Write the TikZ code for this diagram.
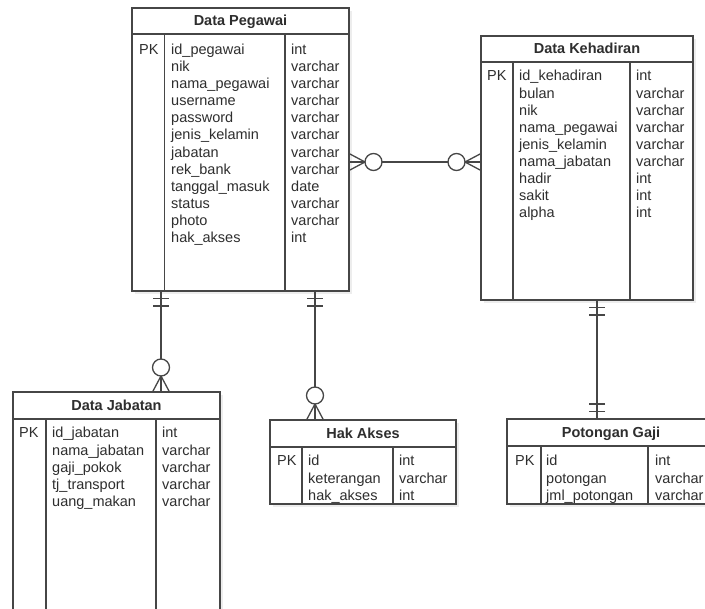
\documentclass[tikz,border=0pt]{standalone}
\usepackage{fontspec}
\setmainfont{Liberation Sans}
\usetikzlibrary{calc}
\definecolor{linec}{HTML}{464646}
\definecolor{textc}{HTML}{2E2E2E}
\definecolor{shadowc}{HTML}{EDEDED}

% entity box: name, x, y, width, height, header height, column 1, column 2, title
\newcommand\ertable[9]{%
  \fill[shadowc] (#2+3,#3+3) rectangle (#2+#4+3,#3+#5+3);
  \node[tbl, minimum width=#4 pt, minimum height=#5 pt] (#1) at (#2,#3) {};
  \draw[line] ([yshift=-#6 pt]#1.north west) -- ([yshift=-#6 pt]#1.north east);
  \draw[line] ([xshift=#7 pt,yshift=-#6 pt]#1.north west) -- ([xshift=#7 pt]#1.south west);
  \draw[line] ([xshift=#8 pt,yshift=-#6 pt]#1.north west) -- ([xshift=#8 pt]#1.south west);
  \node[ttl] (#1-title) at (#2+#4/2,#3+#6/2+5) {#9};
}
% crow's foot with circle (zero or many), pointing away from the box
\newcommand\zeromany[2]{%
  \begin{scope}[shift={(#1)},rotate=#2]
    \draw[line] (0pt,8.5pt) -- (16pt,0pt) -- (0pt,-8.5pt);
    \draw[line] (0pt,0pt) -- (16pt,0pt);
    \draw[line,fill=white] (24.5pt,0pt) circle[radius=8.5pt];
  \end{scope}}
% double bar (exactly one)
\newcommand\exactlyone[2]{%
  \begin{scope}[shift={(#1)},rotate=#2]
    \draw[line] (7.5pt,-8pt) -- (7.5pt,8pt);
    \draw[line] (15pt,-8pt) -- (15pt,8pt);
  \end{scope}}

\begin{document}
\begin{tikzpicture}[x=1pt,y=-1pt,
  line/.style={draw=linec, line width=1.3pt},
  tbl/.style={line, fill=white, rectangle, inner sep=0pt, outer sep=0pt, anchor=north west},
  ttl/.style={anchor=base, inner sep=0pt, text=textc, font=\fontsize{14.5}{17}\selectfont\bfseries},
  fld/.style={anchor=base west, inner sep=0pt, text=textc, font=\fontsize{14.5}{17}\selectfont}]
\useasboundingbox (0,0) rectangle (705,609);
\clip (0,0) rectangle (705,609);
\fill[white] (0,0) rectangle (705,609);

% entity boxes
\ertable{peg}{132}{8}{217}{283}{26}{32.5}{153}{Data Pegawai}
\ertable{keh}{481}{36}{212}{264}{26}{32}{149}{Data Kehadiran}
\ertable{jab}{13}{392}{207}{240}{27}{33}{143}{Data Jabatan}
\ertable{hak}{270}{420}{186}{84}{27}{32}{123}{Hak Akses}
\ertable{pot}{507}{419}{208}{85}{27}{34}{141}{Potongan Gaji}

% Data Pegawai fields
\node[fld] (peg-pk) at (139,54.5) {PK};
\foreach \n/\t [count=\i from 0] in {id\_pegawai/int, nik/varchar, nama\_pegawai/varchar,
  username/varchar, password/varchar, jenis\_kelamin/varchar, jabatan/varchar,
  rek\_bank/varchar, tanggal\_masuk/date, status/varchar, photo/varchar, hak\_akses/int}
{
  \node[fld] (peg-n\i) at (171,54.5+17.1*\i) {\n};
  \node[fld] (peg-t\i) at (291,54.5+17.1*\i) {\t};
}

% Data Kehadiran fields
\node[fld] (keh-pk) at (487,81) {PK};
\foreach \n/\t [count=\i from 0] in {id\_kehadiran/int, bulan/varchar, nik/varchar,
  nama\_pegawai/varchar, jenis\_kelamin/varchar, nama\_jabatan/varchar,
  hadir/int, sakit/int, alpha/int}
{
  \node[fld] (keh-n\i) at (519,81+17.1*\i) {\n};
  \node[fld] (keh-t\i) at (636,81+17.1*\i) {\t};
}

% Data Jabatan fields
\node[fld] (jab-pk) at (19,438) {PK};
\foreach \n/\t [count=\i from 0] in {id\_jabatan/int, nama\_jabatan/varchar,
  gaji\_pokok/varchar, tj\_transport/varchar, uang\_makan/varchar}
{
  \node[fld] (jab-n\i) at (52,438+17.1*\i) {\n};
  \node[fld] (jab-t\i) at (162,438+17.1*\i) {\t};
}

% Hak Akses fields
\node[fld] (hak-pk) at (277,466) {PK};
\foreach \n/\t [count=\i from 0] in {id/int, keterangan/varchar, hak\_akses/int}
{
  \node[fld] (hak-n\i) at (308,466+17.1*\i) {\n};
  \node[fld] (hak-t\i) at (399,466+17.1*\i) {\t};
}

% Potongan Gaji fields
\node[fld] (pot-pk) at (515,466) {PK};
\foreach \n/\t [count=\i from 0] in {id/int, potongan/varchar, jml\_potongan/varchar}
{
  \node[fld] (pot-n\i) at (546,466+17.1*\i) {\n};
  \node[fld] (pot-t\i) at (655,466+17.1*\i) {\t};
}

% relationship end points on the box borders
\coordinate (pk1) at ([yshift=-154pt]peg.north east);
\coordinate (kp1) at ([yshift=-126pt]keh.north west);
\coordinate (pj1) at ([xshift=29pt]peg.south west);
\coordinate (jp1) at ([xshift=148pt]jab.north west);
\coordinate (ph1) at ([xshift=183pt]peg.south west);
\coordinate (hp1) at ([xshift=45pt]hak.north west);
\coordinate (kt1) at ([xshift=116pt]keh.south west);
\coordinate (tk1) at ([xshift=90pt]pot.north west);

% relationship lines
\draw[line] (pk1) -- (kp1);
\draw[line] (pj1) -- (jp1);
\draw[line] (ph1) -- (hp1);
\draw[line] (kt1) -- (tk1);

% cardinality marks
\zeromany{pk1}{0}
\zeromany{kp1}{180}
\exactlyone{pj1}{-90}
\zeromany{jp1}{90}
\exactlyone{ph1}{-90}
\zeromany{hp1}{90}
\exactlyone{kt1}{-90}
\exactlyone{tk1}{90}
\end{tikzpicture}
\end{document}
